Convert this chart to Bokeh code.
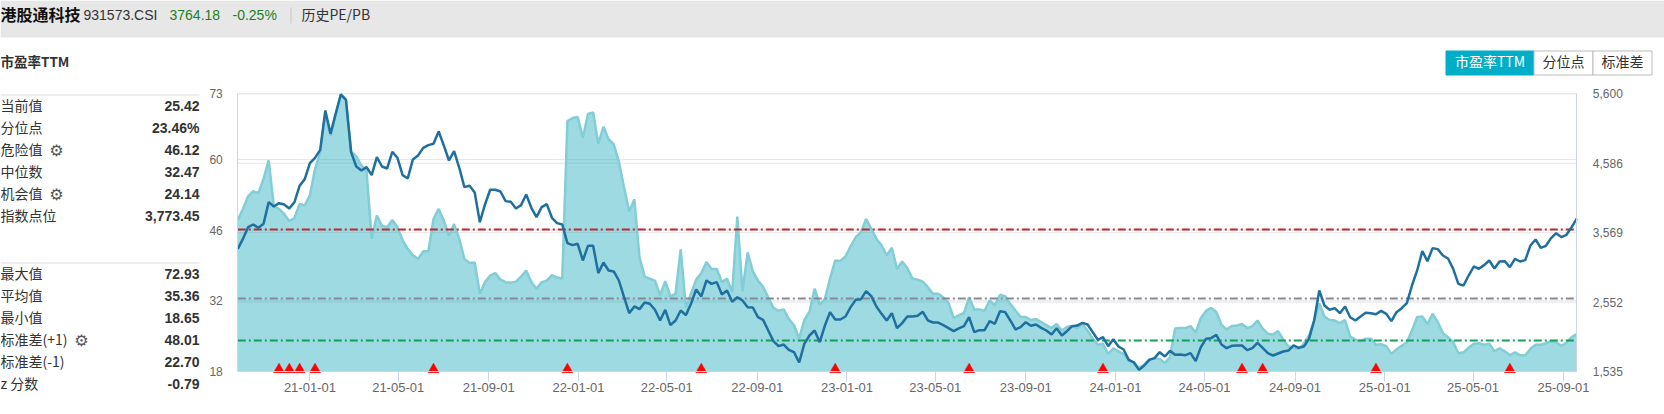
import pandas as pd
from bokeh.core.properties import value
from bokeh.embed import file_html
from bokeh.resources import INLINE
from bokeh.plotting import figure
from bokeh.models import ColumnDataSource, FixedTicker, LinearAxis, Range1d

# Weekly dates of the series
first_date = "2020-09-25"
n_points = 261

# PE TTM (left axis), one value per week
pe_ttm = [
 48.0,50.2,52.7,53.7,53.3,56.2,59.8,50.7,50.2,49.2,
 47.8,48.4,51.2,50.9,52.9,58.1,61.4,69.0,64.7,68.7,
 72.9,71.8,61.6,60.6,58.8,57.7,44.3,48.9,46.9,46.6,
 48.0,46.6,44.0,42.3,41.0,40.3,41.8,41.8,48.2,50.2,
 47.9,44.9,47.2,44.3,40.3,39.5,39.6,33.4,35.7,37.0,
 37.5,36.2,35.7,35.6,35.8,36.8,38.0,35.7,34.4,35.7,
 36.0,37.1,36.6,36.4,67.6,68.2,68.4,64.3,69.0,69.3,
 63.1,66.5,64.0,63.0,59.5,54.5,49.7,52.1,40.6,36.8,
 36.4,36.0,33.1,35.9,32.9,33.4,42.2,30.7,33.4,36.2,
 37.5,39.7,38.3,38.3,35.7,36.4,33.7,48.7,33.9,41.6,
 37.9,36.0,34.8,32.7,30.6,30.0,30.3,28.4,27.2,24.5,
 28.2,29.8,34.4,31.3,32.4,36.4,40.0,39.9,40.8,42.8,
 44.6,45.6,48.2,46.3,44.3,43.0,41.0,42.5,38.3,39.8,
 38.5,36.4,36.2,35.8,34.7,33.4,33.4,32.7,31.6,28.6,
 29.1,29.6,32.7,30.3,30.3,30.0,32.1,31.1,33.2,32.9,
 31.4,30.1,28.8,28.8,28.2,28.4,27.8,27.2,26.6,27.4,
 26.1,26.8,27.0,26.6,27.4,26.1,24.5,23.3,23.5,21.5,
 22.6,22.0,21.5,20.2,19.7,18.7,19.4,20.4,20.6,20.5,
 19.7,20.8,26.5,26.6,26.6,27.0,25.7,28.6,30.0,30.6,
 29.8,27.3,26.3,27.0,27.1,27.4,26.6,27.0,28.1,26.5,
 25.5,25.3,26.0,24.3,23.0,22.6,22.5,23.5,25.1,28.1,
 31.5,28.9,28.2,28.1,27.6,28.2,24.9,24.3,24.0,24.5,
 24.5,23.3,23.4,23.0,21.5,22.4,23.1,23.8,26.1,28.8,
 28.9,27.4,29.4,27.8,25.6,24.8,23.8,21.6,21.8,22.7,
 23.5,23.6,23.3,23.5,22.0,22.6,22.0,21.2,21.8,21.2,
 21.2,22.5,23.3,23.3,23.6,24.0,23.8,23.1,23.7,24.8,
 25.4,
]

# Index level (right axis), one value per week
index_level = [
 3331,3477,3648,3687,3638,3697,4014,3951,3999,3980,
 3921,4014,4253,4351,4585,4663,4780,5356,5014,5307,
 5590,5512,4746,4536,4478,4526,4409,4673,4536,4507,
 4751,4663,4409,4361,4639,4697,4809,4849,4868,5049,
 4844,4624,4761,4517,4234,4253,4156,3721,3980,4195,
 4195,4170,4029,4019,3921,3970,4126,3931,3794,3941,
 3985,3785,3707,3687,3414,3385,3404,3160,3375,3375,
 2975,3131,3014,2999,2867,2623,2389,2487,2448,2545,
 2526,2438,2282,2438,2213,2282,2428,2360,2526,2735,
 2633,2867,2818,2843,2662,2721,2555,2623,2574,2477,
 2472,2330,2291,2135,1979,1906,1930,1852,1818,1667,
 1940,2062,2135,1964,2208,2404,2296,2296,2340,2477,
 2584,2594,2711,2638,2487,2379,2282,2389,2169,2243,
 2340,2340,2350,2409,2282,2252,2252,2213,2169,2125,
 2165,2199,2330,2111,2140,2140,2272,2233,2418,2404,
 2282,2150,2184,2257,2204,2223,2174,2135,2077,2169,
 2062,2125,2199,2208,2247,2223,2111,1999,2038,1906,
 2008,1901,1857,1706,1667,1559,1623,1706,1730,1818,
 1755,1838,1779,1784,1774,1803,1686,1891,2013,2023,
 2072,1930,1877,1911,1916,1916,1847,1877,1955,1881,
 1803,1769,1799,1828,1842,1916,1881,1901,2013,2282,
 2721,2501,2438,2462,2389,2487,2330,2282,2340,2394,
 2389,2374,2423,2379,2272,2404,2462,2535,2794,3014,
 3297,3150,3341,3326,3233,3189,3038,2818,2794,2940,
 3072,3038,3092,3160,3043,3145,3150,3062,3184,3145,
 3165,3380,3467,3345,3375,3487,3560,3502,3536,3648,
 3773,
]

rebalance_dates = ["2020-11-20", "2020-12-04", "2020-12-18", "2021-01-08", "2021-06-18",
                   "2021-12-17", "2022-06-17", "2022-12-16", "2023-06-16", "2023-12-15",
                   "2024-06-21", "2024-07-19", "2024-12-20", "2025-06-20"]
marker_level = 18.4

x_tick_labels = ["21-01-01", "21-05-01", "21-09-01", "22-01-01", "22-05-01", "22-09-01", "23-01-01",
                 "23-05-01", "23-09-01", "24-01-01", "24-05-01", "24-09-01", "25-01-01", "25-05-01",
                 "25-09-01"]
left_ticks = [18, 32, 46, 60, 73]
right_ticks = [1535, 2551.25, 3567.5, 4583.75, 5600]
right_tick_labels = ["1,535", "2,552", "3,569", "4,586", "5,600"]

danger_value = 46.12
median_value = 32.47
chance_value = 24.14

stats_top = [("当前值", "25.42"), ("分位点", "23.46%"), ("危险值", "46.12"), ("中位数", "32.47"),
             ("机会值", "24.14"), ("指数点位", "3,773.45")]
stats_bottom = [("最大值", "72.93"), ("平均值", "35.36"), ("最小值", "18.65"), ("标准差(+1)", "48.01"),
                ("标准差(-1)", "22.70"), ("z 分数", "-0.79")]
legend_names = ["市盈率", "指数点位", "调样日期", "分位点", "危险值", "中位数", "机会值", "标准差"]

# Page layout in pixels: the frame covers the whole picture, and the ranges are
# stretched so that the plot area falls on these edges.
W, H = 1664, 414
PLOT_L, PLOT_R, PLOT_T, PLOT_B = 237.3, 1576.3, 93.3, 371.0

dates = pd.date_range(first_date, periods=n_points, freq="7D")
ms0 = dates[0].timestamp() * 1000
ms1 = dates[-1].timestamp() * 1000
ms_per_px = (ms1 - ms0) / (PLOT_R - PLOT_L)


def stretched(lo, hi):
    per_px = (hi - lo) / (PLOT_B - PLOT_T)
    return Range1d(lo - (H - PLOT_B) * per_px, hi + PLOT_T * per_px)


source = ColumnDataSource(dict(date=dates, pe=pe_ttm, base=[left_ticks[0]] * n_points, idx=index_level))
tick_ms = [pd.Timestamp("20" + t).timestamp() * 1000 for t in x_tick_labels]

LATIN = "Liberation Sans"
CJK = "Noto Sans CJK SC"
AXIS = "#ccd6eb"
GRID = "#e6e6e6"
TICK = "#666666"

p = figure(width=W, height=H, output_backend="svg", toolbar_location=None, x_axis_type="datetime",
           x_range=Range1d(ms0 - PLOT_L * ms_per_px, ms1 + (W - PLOT_R) * ms_per_px),
           y_range=stretched(left_ticks[0], left_ticks[-1]),
           min_border=0, outline_line_color=None, background_fill_color="white", border_fill_color="white")
p.styles = {"position": "absolute", "left": "0px", "top": "0px"}
p.extra_y_ranges = {"index": stretched(right_ticks[0], right_ticks[-1]), "py": Range1d(H, 0)}
p.extra_x_ranges = {"px": Range1d(0, W)}
p.xgrid.visible = False
p.ygrid.visible = False

# axes, fixed onto the plot area
xa = p.xaxis[0]
xa.fixed_location = left_ticks[0]
xa.bounds = (ms0, ms1)
xa.ticker = FixedTicker(ticks=tick_ms)
xa.major_label_overrides = dict(zip(tick_ms, x_tick_labels))
xa.axis_line_color = AXIS
xa.major_tick_line_color = AXIS
xa.major_tick_out = 10
xa.major_tick_in = 0
xa.minor_tick_line_color = None
xa.major_label_standoff = 1
xa.major_label_text_font = LATIN
xa.major_label_text_font_size = "13px"
xa.major_label_text_color = TICK

ya = p.yaxis[0]
ya.fixed_location = ms0
ya.bounds = (left_ticks[0], left_ticks[-1])
ya.ticker = FixedTicker(ticks=left_ticks)
ya.axis_line_color = AXIS
ya.major_tick_line_color = None
ya.minor_tick_line_color = None
ya.major_label_standoff = 9
ya.major_label_text_font = LATIN
ya.major_label_text_font_size = "12px"
ya.major_label_text_color = TICK

ra = LinearAxis(y_range_name="index", fixed_location=ms1, bounds=(right_ticks[0], right_ticks[-1]),
                ticker=FixedTicker(ticks=right_ticks),
                major_label_overrides=dict(zip(right_ticks, right_tick_labels)),
                axis_line_color=AXIS, major_tick_line_color=None, minor_tick_line_color=None,
                major_label_standoff=10, major_label_text_font=LATIN,
                major_label_text_font_size="12px", major_label_text_color=TICK)
p.add_layout(ra, "right")

# grid lines of both axes
n_l, n_r = len(left_ticks), len(right_ticks)
p.segment(x0=[dates[0]] * n_l, x1=[dates[-1]] * n_l, y0=left_ticks, y1=left_ticks,
          line_color=GRID, line_width=1)
p.segment(x0=[dates[0]] * n_r, x1=[dates[-1]] * n_r, y0=right_ticks, y1=right_ticks,
          line_color=GRID, line_width=1, y_range_name="index")

# marks
p.varea(x="date", y1="base", y2="pe", source=source, fill_color="#17a6b8", fill_alpha=0.42)
p.line(x="date", y="pe", source=source, line_color="#82cdd6", line_width=2.5)

DASH = [8, 3, 2, 3]
for val, col in ((danger_value, "#be2a2e"), (median_value, "#87879a"), (chance_value, "#14a05a")):
    p.line(x=[dates[0], dates[-1]], y=[val, val], line_color=col, line_width=2, line_dash=DASH)

p.line(x="date", y="idx", source=source, y_range_name="index", line_color="#1f6f9f", line_width=2.5)
p.scatter(x=pd.to_datetime(rebalance_dates), y=[marker_level] * len(rebalance_dates),
          marker="triangle", size=11, fill_color="#ff0000", line_color="#ff0000", line_width=0.5)


def box(l, t, r, b, fill, line=None):
    p.quad(left=[l], right=[r], top=[t], bottom=[b], fill_color=fill, line_color=line,
           x_range_name="px", y_range_name="py")


def text(x, y, s, size=14, color="#333333", style="normal", align="left", font=None):
    if font is None:
        font = LATIN if s.isascii() else CJK
    # Noto sits lower than Liberation at a middle baseline
    y = y - (1.0 if s.isascii() else 2.0)
    p.text(x=[x], y=[y], text=[s], text_font=value(font), text_font_size=value(f"{size}px"), text_color=color,
           text_font_style=style, text_align=align, text_baseline="middle",
           x_range_name="px", y_range_name="py")


def gear(x, y):
    text(x, y + 1.5, "⚙", 16, "#555555", align="center", font="DejaVu Sans")


# header band
box(0, 0, W, 37, "#e7e7e7")
text(0, 15, "港股通科技", 16, "#111111", "bold")
text(83, 15, "931573.CSI", 14, "#333333")
text(169, 15, "3764.18", 14, "#1d7f1d")
text(232, 15, "-0.25%", 14, "#1d7f1d")
box(290, 7, 291, 23, "#c8c8c8")
text(301, 15, "历史PE/PB", 14, "#333333")

# section title and statistics
text(0, 62, "市盈率TTM", 13.5, "#333333", "bold")
box(0, 94, 199, 95, "#dddddd")
for k, (name, val) in enumerate(stats_top):
    yy = 106.5 + 22 * k
    text(0, yy, name, 14)
    text(199, yy, val, 14, "#333333", "bold", "right")
gear(56, 150)
gear(56, 194)
box(0, 262, 199, 263, "#dddddd")
for k, (name, val) in enumerate(stats_bottom):
    yy = 274 + 22 * k
    text(0, yy, name, 14)
    text(199, yy, val, 14, "#333333", "bold", "right")
gear(81, 340)

# buttons
box(1445.5, 50.5, 1533.5, 74.5, "#00afc7", "#00afc7")
box(1533.5, 50.5, 1592.5, 74.5, "#ffffff", "#bbbbbb")
box(1592.5, 50.5, 1651.5, 74.5, "#ffffff", "#bbbbbb")
text(1489.5, 62.5, "市盈率TTM", 14, "#ffffff", align="center")
text(1563, 62.5, "分位点", 14, "#333333", align="center")
text(1622, 62.5, "标准差", 14, "#333333", align="center")

# legend, cut by the window's lower edge as in the reference
legend_x = [508, 611, 700, 794, 872, 953, 1028, 1118]
legend_col = ["#333333", "#333333", "#333333", "#cccccc", "#333333", "#333333", "#333333", "#cccccc"]
for lx, ls, lc in zip(legend_x, legend_names, legend_col):
    text(lx, 422, ls, 14, lc)
text(491.5, 419, "●", 14, "#82cdd6", align="center", font="DejaVu Sans")
text(776.5, 419, "●", 14, "#cccccc", align="center", font="DejaVu Sans")
text(686, 419, "▲", 13, "#ff0000", align="center", font="DejaVu Sans")

open("out.html", "w").write(file_html(p, INLINE))
